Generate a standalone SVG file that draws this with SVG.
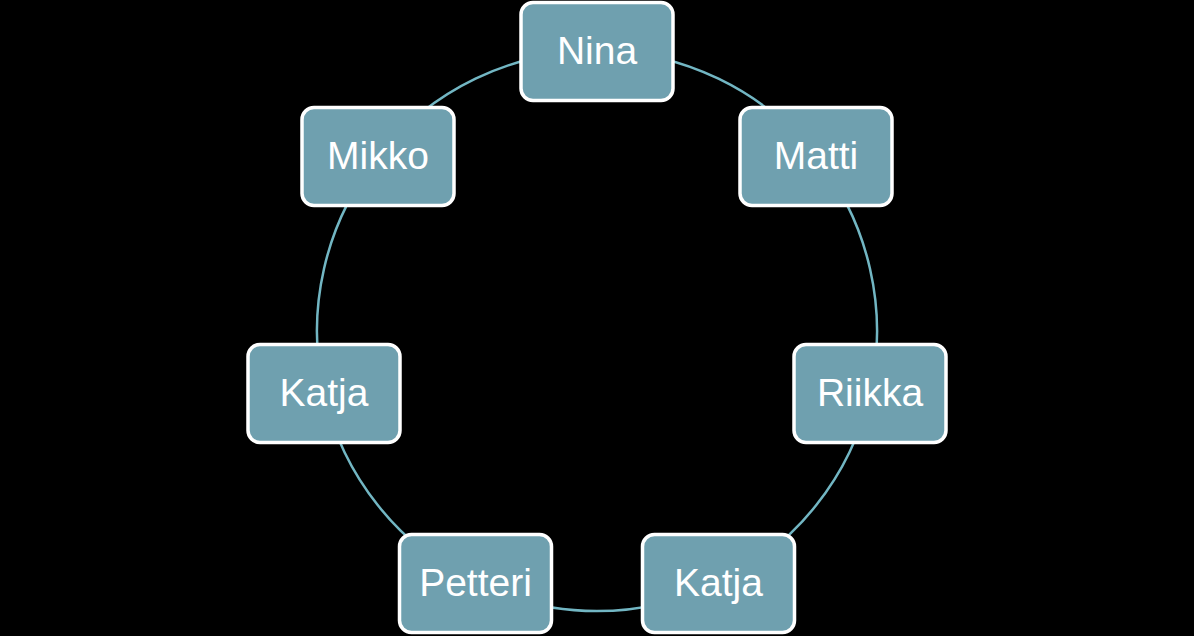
<svg xmlns="http://www.w3.org/2000/svg" width="1194" height="636" viewBox="0 0 1194 636">
<style>
.bg{fill:#000}
.arc{fill:none;stroke:#72B6C3;stroke-width:2.5}
.box{fill:#6FA0AF;stroke:#fff;stroke-width:3.5}
.lbl{font-family:"Liberation Sans",Arial,sans-serif;font-size:39px;fill:#fff;text-anchor:middle}
</style>
<rect class="bg" x="0" y="0" width="1194" height="636"/>
<g id="connectors">
<path class="arc" d="M597,51 A280,280 0 0 1 815.9,156.4"/>
<path class="arc" d="M815.9,156.4 A280,280 0 0 1 870,393.3"/>
<path class="arc" d="M870,393.3 A280,280 0 0 1 718.5,583.3"/>
<path class="arc" d="M718.5,583.3 A280,280 0 0 1 475.5,583.3"/>
<path class="arc" d="M475.5,583.3 A280,280 0 0 1 324,393.3"/>
<path class="arc" d="M324,393.3 A280,280 0 0 1 378.1,156.4"/>
<path class="arc" d="M378.1,156.4 A280,280 0 0 1 597,51"/>
</g>
<g id="node-nina"><rect class="box" x="521" y="2.5" width="152" height="98" rx="12"/><text class="lbl" x="597" y="64">Nina</text></g>
<g id="node-matti"><rect class="box" x="740" y="107.5" width="152" height="98" rx="12"/><text class="lbl" x="816" y="169">Matti</text></g>
<g id="node-riikka"><rect class="box" x="794" y="344.5" width="152" height="98" rx="12"/><text class="lbl" x="870" y="406">Riikka</text></g>
<g id="node-katja-bottom"><rect class="box" x="642.5" y="534.5" width="152" height="98" rx="12"/><text class="lbl" x="718.5" y="596">Katja</text></g>
<g id="node-petteri"><rect class="box" x="399.5" y="534.5" width="152" height="98" rx="12"/><text class="lbl" x="475.5" y="596">Petteri</text></g>
<g id="node-katja-left"><rect class="box" x="248" y="344.5" width="152" height="98" rx="12"/><text class="lbl" x="324" y="406">Katja</text></g>
<g id="node-mikko"><rect class="box" x="302" y="107.5" width="152" height="98" rx="12"/><text class="lbl" x="378" y="169">Mikko</text></g>
</svg>
